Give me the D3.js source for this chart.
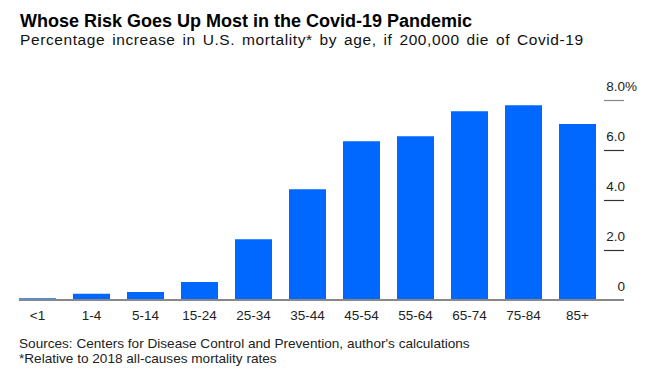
<!DOCTYPE html>
<html>
<head>
<meta charset="utf-8">
<script src="https://cdn.jsdelivr.net/npm/d3@7"></script>
<style>
    body { margin: 0; background: #fff; }
    svg { display: block; font-family: "Liberation Sans", Arial, sans-serif; }
</style>
</head>
<body>
<div id="chart"></div>
<script>
// chart data
const ageGroups = ["<1", "1-4", "5-14", "15-24", "25-34", "35-44", "45-54", "55-64", "65-74", "75-84", "85+"];
const increasePct = [0.07, 0.25, 0.32, 0.72, 2.43, 4.43, 6.35, 6.55, 7.55, 7.79, 7.04];
const yTicks = [0, 2, 4, 6, 8];
const yTickLabels = ["0", "2.0", "4.0", "6.0", "8.0"];

const width = 653, height = 375;

const svg = d3.select("#chart").append("svg")
    .attr("width", width)
    .attr("height", height);

// titles
svg.append("text")
    .attr("x", 20)
    .attr("y", 26.5)
    .style("font-size", "18px")
    .style("font-weight", "bold")
    .attr("fill", "#000")
    .text("Whose Risk Goes Up Most in the Covid-19 Pandemic");

svg.append("text")
    .attr("x", 20)
    .attr("y", 45)
    .style("font-size", "15.5px")
    .style("letter-spacing", "0.6px")
    .style("word-spacing", "2px")
    .attr("fill", "#111")
    .text("Percentage increase in U.S. mortality* by age, if 200,000 die of Covid-19");

const x = d3.scaleBand()
    .domain(ageGroups)
    .range([19, 596])
    .paddingInner(0.315)
    .paddingOuter(0);

const y = d3.scaleLinear()
    .domain([0, 8])
    .range([300, 100]);

// right-hand tick marks and labels
const ticks = svg.append("g").attr("class", "y-ticks");
ticks.selectAll("line")
    .data(yTicks.filter(d => d > 0))
    .enter()
    .append("line")
    .attr("x1", 604)
    .attr("x2", 624)
    .attr("y1", d => y(d) + 0.5)
    .attr("y2", d => y(d) + 0.5)
    .attr("stroke", d => d === 8 ? "#888" : "#333")
    .attr("stroke-width", 1.2);

ticks.selectAll("text")
    .data(yTicks)
    .enter()
    .append("text")
    .attr("x", 625)
    .attr("y", d => y(d) - 9)
    .attr("text-anchor", "end")
    .style("font-size", "13.5px")
    .attr("fill", "#222")
    .text((d, i) => yTickLabels[i]);

// percent sign hangs after the top label
svg.append("text")
    .attr("x", 625)
    .attr("y", y(8) - 9)
    .style("font-size", "13.5px")
    .attr("fill", "#222")
    .text("%");

// bars
svg.selectAll("rect.bar")
    .data(increasePct)
    .enter()
    .append("rect")
    .attr("class", "bar")
    .attr("x", (d, i) => x(ageGroups[i]))
    .attr("y", d => y(d))
    .attr("width", x.bandwidth())
    .attr("height", d => y(0) - y(d))
    .attr("fill", "#0068ff");

// baseline
svg.append("line")
    .attr("x1", 19)
    .attr("x2", 624)
    .attr("y1", y(0))
    .attr("y2", y(0))
    .attr("stroke", "#888")
    .attr("stroke-width", 2);

// category axis
const xAxis = svg.append("g")
    .attr("transform", `translate(0,${y(0)})`)
    .call(d3.axisBottom(x).tickSize(0).tickPadding(10));
xAxis.select(".domain").remove();
xAxis.selectAll("text")
    .style("font-size", "13.5px")
    .style("font-family", "Liberation Sans, Arial, sans-serif")
    .attr("fill", "#222");

// footnotes
svg.append("text")
    .attr("x", 19)
    .attr("y", 348)
    .style("font-size", "13.6px")
    .attr("fill", "#222")
    .text("Sources: Centers for Disease Control and Prevention, author's calculations");

svg.append("text")
    .attr("x", 19)
    .attr("y", 363)
    .style("font-size", "13.6px")
    .attr("fill", "#222")
    .text("*Relative to 2018 all-causes mortality rates");
</script>
</body>
</html>
